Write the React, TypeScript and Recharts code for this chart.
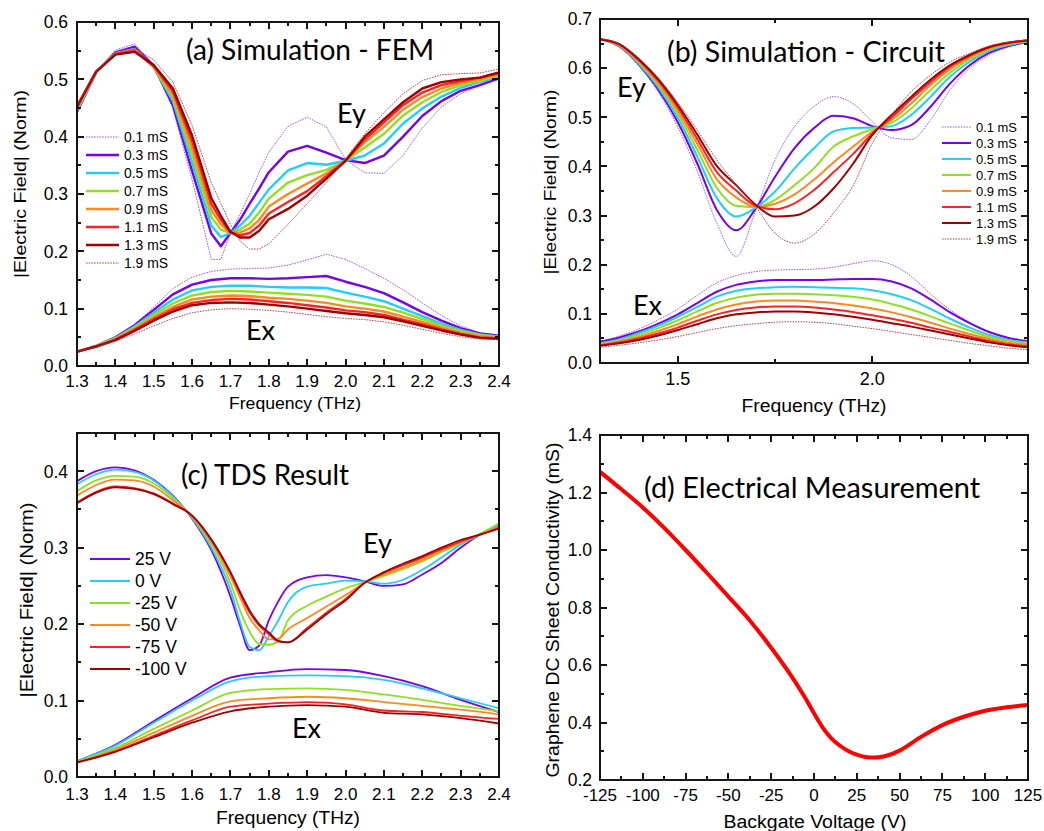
import React from 'react';
import { LineChart, Line, XAxis, YAxis } from 'recharts';

// ---------------- data ----------------
const condLabels = ['0.1 mS', '0.3 mS', '0.5 mS', '0.7 mS', '0.9 mS', '1.1 mS', '1.3 mS', '1.9 mS'];
const voltLabels = ['25 V', '0 V', '-25 V', '-50 V', '-75 V', '-100 V'];

// (a) FEM simulation
const freqA_Ey = [1.3, 1.35, 1.4, 1.45, 1.5, 1.55, 1.6, 1.65, 1.675, 1.7, 1.725, 1.75, 1.775, 1.8, 1.85, 1.9, 1.95, 2.0, 2.05, 2.1, 2.15, 2.2, 2.25, 2.3, 2.35, 2.4];
const eyA_01 = [0.440, 0.512, 0.551, 0.562, 0.526, 0.448, 0.325, 0.186, 0.186, 0.232, 0.265, 0.300, 0.338, 0.373, 0.418, 0.434, 0.417, 0.360, 0.337, 0.336, 0.367, 0.415, 0.452, 0.475, 0.490, 0.500];
const eyA_03 = [0.443, 0.512, 0.547, 0.557, 0.523, 0.455, 0.340, 0.231, 0.209, 0.232, 0.255, 0.283, 0.310, 0.338, 0.374, 0.384, 0.372, 0.359, 0.354, 0.367, 0.400, 0.436, 0.462, 0.480, 0.490, 0.502];
const eyA_05 = [0.445, 0.512, 0.545, 0.553, 0.521, 0.462, 0.355, 0.245, 0.225, 0.232, 0.245, 0.262, 0.285, 0.308, 0.341, 0.354, 0.351, 0.358, 0.367, 0.388, 0.423, 0.449, 0.470, 0.485, 0.495, 0.505];
const eyA_07 = [0.447, 0.513, 0.545, 0.552, 0.521, 0.468, 0.368, 0.260, 0.238, 0.232, 0.238, 0.248, 0.268, 0.292, 0.320, 0.333, 0.342, 0.358, 0.381, 0.405, 0.437, 0.460, 0.478, 0.490, 0.497, 0.507];
const eyA_09 = [0.449, 0.513, 0.544, 0.551, 0.522, 0.474, 0.380, 0.272, 0.247, 0.232, 0.233, 0.240, 0.255, 0.278, 0.300, 0.318, 0.336, 0.358, 0.390, 0.417, 0.447, 0.469, 0.484, 0.494, 0.500, 0.509];
const eyA_11 = [0.451, 0.514, 0.544, 0.550, 0.523, 0.479, 0.392, 0.283, 0.255, 0.233, 0.228, 0.232, 0.245, 0.266, 0.286, 0.305, 0.331, 0.358, 0.395, 0.425, 0.455, 0.477, 0.490, 0.497, 0.503, 0.511];
const eyA_13 = [0.453, 0.514, 0.543, 0.548, 0.525, 0.484, 0.402, 0.293, 0.262, 0.234, 0.224, 0.224, 0.236, 0.256, 0.274, 0.297, 0.327, 0.358, 0.400, 0.430, 0.460, 0.484, 0.495, 0.500, 0.503, 0.512];
const eyA_19 = [0.455, 0.515, 0.546, 0.554, 0.534, 0.495, 0.420, 0.320, 0.283, 0.247, 0.218, 0.204, 0.204, 0.213, 0.247, 0.283, 0.320, 0.362, 0.405, 0.442, 0.475, 0.498, 0.508, 0.510, 0.511, 0.518];

const freqA_Ex = [1.3, 1.35, 1.4, 1.45, 1.5, 1.55, 1.6, 1.65, 1.7, 1.75, 1.8, 1.85, 1.9, 1.95, 2.0, 2.05, 2.1, 2.15, 2.2, 2.25, 2.3, 2.35, 2.4];
const exA_01 = [0.025, 0.035, 0.050, 0.072, 0.103, 0.135, 0.155, 0.165, 0.169, 0.170, 0.171, 0.176, 0.185, 0.195, 0.186, 0.170, 0.153, 0.133, 0.110, 0.088, 0.070, 0.058, 0.054];
const exA_03 = [0.025, 0.035, 0.050, 0.071, 0.098, 0.125, 0.142, 0.150, 0.153, 0.153, 0.152, 0.153, 0.155, 0.157, 0.147, 0.138, 0.127, 0.111, 0.094, 0.079, 0.066, 0.057, 0.053];
const exA_05 = [0.025, 0.035, 0.049, 0.069, 0.093, 0.116, 0.132, 0.138, 0.140, 0.140, 0.138, 0.137, 0.137, 0.136, 0.128, 0.121, 0.113, 0.100, 0.087, 0.074, 0.063, 0.055, 0.051];
const exA_07 = [0.025, 0.035, 0.048, 0.067, 0.089, 0.109, 0.123, 0.129, 0.131, 0.130, 0.128, 0.126, 0.124, 0.121, 0.114, 0.109, 0.103, 0.093, 0.082, 0.071, 0.061, 0.054, 0.050];
const exA_09 = [0.025, 0.034, 0.047, 0.065, 0.085, 0.103, 0.116, 0.121, 0.123, 0.122, 0.119, 0.117, 0.114, 0.110, 0.104, 0.100, 0.095, 0.086, 0.077, 0.067, 0.058, 0.052, 0.049];
const exA_11 = [0.025, 0.034, 0.046, 0.063, 0.082, 0.099, 0.110, 0.115, 0.117, 0.116, 0.113, 0.110, 0.106, 0.102, 0.097, 0.094, 0.089, 0.081, 0.073, 0.064, 0.056, 0.050, 0.048];
const exA_13 = [0.025, 0.034, 0.045, 0.061, 0.079, 0.095, 0.106, 0.110, 0.111, 0.110, 0.107, 0.104, 0.100, 0.096, 0.092, 0.089, 0.085, 0.078, 0.070, 0.062, 0.055, 0.049, 0.047];
const exA_19 = [0.025, 0.033, 0.043, 0.056, 0.070, 0.083, 0.093, 0.098, 0.100, 0.099, 0.097, 0.094, 0.090, 0.086, 0.083, 0.081, 0.077, 0.071, 0.064, 0.057, 0.051, 0.047, 0.046];

// (b) circuit simulation
const freqB = [1.3, 1.35, 1.4, 1.45, 1.5, 1.55, 1.6, 1.65, 1.7, 1.75, 1.8, 1.85, 1.9, 1.95, 2.0, 2.05, 2.1, 2.15, 2.2, 2.25, 2.3, 2.35, 2.4];
const eyB_01 = [0.659, 0.643, 0.605, 0.551, 0.480, 0.390, 0.285, 0.217, 0.310, 0.413, 0.481, 0.522, 0.542, 0.528, 0.491, 0.458, 0.455, 0.495, 0.556, 0.600, 0.627, 0.643, 0.652];
const eyB_03 = [0.659, 0.644, 0.607, 0.556, 0.490, 0.406, 0.312, 0.270, 0.314, 0.379, 0.437, 0.478, 0.503, 0.498, 0.482, 0.474, 0.484, 0.522, 0.569, 0.606, 0.631, 0.645, 0.653];
const eyB_05 = [0.659, 0.645, 0.609, 0.561, 0.499, 0.420, 0.336, 0.298, 0.316, 0.349, 0.396, 0.437, 0.471, 0.478, 0.479, 0.482, 0.505, 0.542, 0.583, 0.613, 0.635, 0.647, 0.654];
const eyB_07 = [0.659, 0.646, 0.612, 0.566, 0.507, 0.434, 0.357, 0.320, 0.317, 0.332, 0.362, 0.396, 0.440, 0.461, 0.476, 0.489, 0.518, 0.556, 0.591, 0.618, 0.638, 0.649, 0.655];
const eyB_09 = [0.659, 0.647, 0.614, 0.570, 0.514, 0.446, 0.374, 0.337, 0.318, 0.324, 0.343, 0.373, 0.408, 0.440, 0.471, 0.495, 0.528, 0.566, 0.598, 0.622, 0.640, 0.650, 0.656];
const eyB_11 = [0.659, 0.648, 0.616, 0.574, 0.520, 0.456, 0.389, 0.351, 0.320, 0.313, 0.325, 0.352, 0.388, 0.425, 0.467, 0.500, 0.537, 0.572, 0.603, 0.625, 0.642, 0.651, 0.657];
const eyB_13 = [0.659, 0.649, 0.618, 0.577, 0.525, 0.465, 0.401, 0.362, 0.322, 0.298, 0.300, 0.318, 0.355, 0.405, 0.464, 0.505, 0.542, 0.577, 0.606, 0.627, 0.643, 0.652, 0.657];
const eyB_19 = [0.660, 0.650, 0.620, 0.580, 0.530, 0.474, 0.414, 0.363, 0.318, 0.264, 0.244, 0.262, 0.305, 0.360, 0.447, 0.505, 0.552, 0.586, 0.613, 0.630, 0.645, 0.653, 0.658];

const exB_01 = [0.044, 0.055, 0.069, 0.088, 0.110, 0.138, 0.163, 0.178, 0.186, 0.189, 0.190, 0.191, 0.195, 0.202, 0.208, 0.200, 0.176, 0.140, 0.108, 0.083, 0.064, 0.052, 0.046];
const exB_03 = [0.043, 0.052, 0.064, 0.080, 0.099, 0.122, 0.145, 0.159, 0.166, 0.169, 0.169, 0.169, 0.170, 0.171, 0.171, 0.166, 0.152, 0.129, 0.103, 0.081, 0.063, 0.051, 0.044];
const exB_05 = [0.040, 0.048, 0.061, 0.076, 0.094, 0.114, 0.135, 0.147, 0.152, 0.154, 0.155, 0.154, 0.153, 0.152, 0.148, 0.140, 0.128, 0.110, 0.090, 0.072, 0.057, 0.047, 0.042];
const exB_07 = [0.039, 0.046, 0.057, 0.071, 0.087, 0.105, 0.122, 0.133, 0.139, 0.141, 0.141, 0.140, 0.138, 0.135, 0.129, 0.120, 0.109, 0.095, 0.080, 0.066, 0.053, 0.045, 0.040];
const exB_09 = [0.037, 0.044, 0.053, 0.065, 0.079, 0.095, 0.109, 0.119, 0.125, 0.127, 0.127, 0.125, 0.122, 0.117, 0.111, 0.103, 0.093, 0.082, 0.070, 0.059, 0.049, 0.041, 0.037];
const exB_11 = [0.036, 0.042, 0.050, 0.060, 0.072, 0.086, 0.099, 0.108, 0.113, 0.115, 0.115, 0.113, 0.109, 0.104, 0.097, 0.090, 0.082, 0.072, 0.063, 0.054, 0.045, 0.038, 0.034];
const exB_13 = [0.035, 0.040, 0.047, 0.056, 0.067, 0.079, 0.091, 0.099, 0.103, 0.105, 0.105, 0.103, 0.099, 0.094, 0.088, 0.081, 0.074, 0.066, 0.058, 0.050, 0.042, 0.036, 0.032];
const exB_19 = [0.032, 0.036, 0.041, 0.047, 0.054, 0.062, 0.070, 0.076, 0.080, 0.083, 0.084, 0.083, 0.080, 0.075, 0.070, 0.064, 0.058, 0.052, 0.046, 0.040, 0.035, 0.030, 0.027];

// (c) TDS result
const freqC_Ey = [1.3, 1.35, 1.4, 1.45, 1.5, 1.55, 1.6, 1.65, 1.7, 1.725, 1.75, 1.775, 1.8, 1.825, 1.85, 1.9, 1.95, 2.0, 2.05, 2.1, 2.15, 2.2, 2.25, 2.3, 2.35, 2.4];
const eyC_p25 = [0.387, 0.400, 0.405, 0.401, 0.389, 0.368, 0.338, 0.297, 0.236, 0.198, 0.166, 0.172, 0.205, 0.230, 0.249, 0.261, 0.264, 0.261, 0.256, 0.250, 0.252, 0.265, 0.280, 0.300, 0.317, 0.329];
const eyC_0 = [0.383, 0.396, 0.402, 0.399, 0.388, 0.367, 0.339, 0.300, 0.245, 0.203, 0.170, 0.166, 0.184, 0.205, 0.229, 0.249, 0.253, 0.257, 0.256, 0.253, 0.258, 0.271, 0.287, 0.304, 0.317, 0.330];
const eyC_m25 = [0.374, 0.388, 0.394, 0.393, 0.384, 0.365, 0.340, 0.305, 0.254, 0.218, 0.190, 0.174, 0.173, 0.178, 0.205, 0.224, 0.236, 0.247, 0.255, 0.263, 0.272, 0.282, 0.294, 0.306, 0.318, 0.332];
const eyC_m50 = [0.368, 0.382, 0.389, 0.388, 0.380, 0.362, 0.341, 0.308, 0.262, 0.235, 0.208, 0.192, 0.180, 0.181, 0.193, 0.208, 0.223, 0.238, 0.254, 0.265, 0.274, 0.284, 0.296, 0.307, 0.317, 0.327];
const eyC_m75 = [0.359, 0.373, 0.380, 0.378, 0.371, 0.358, 0.342, 0.310, 0.267, 0.240, 0.215, 0.198, 0.187, 0.177, 0.176, 0.195, 0.215, 0.233, 0.254, 0.267, 0.277, 0.287, 0.298, 0.308, 0.317, 0.326];
const eyC_m100 = [0.358, 0.372, 0.379, 0.377, 0.370, 0.357, 0.342, 0.311, 0.268, 0.242, 0.218, 0.200, 0.189, 0.178, 0.176, 0.193, 0.213, 0.231, 0.254, 0.268, 0.279, 0.289, 0.300, 0.310, 0.317, 0.325];

const freqC_Ex = [1.3, 1.4, 1.5, 1.6, 1.7, 1.8, 1.9, 2.0, 2.1, 2.2, 2.3, 2.4];
const exC_p25 = [0.0205, 0.042, 0.073, 0.103, 0.130, 0.137, 0.141, 0.140, 0.132, 0.119, 0.101, 0.085];
const exC_0 = [0.021, 0.041, 0.071, 0.100, 0.125, 0.132, 0.133, 0.132, 0.127, 0.116, 0.103, 0.090];
const exC_m25 = [0.020, 0.038, 0.063, 0.087, 0.110, 0.115, 0.116, 0.114, 0.108, 0.101, 0.093, 0.086];
const exC_m50 = [0.019, 0.036, 0.058, 0.080, 0.099, 0.103, 0.105, 0.103, 0.098, 0.093, 0.088, 0.082];
const exC_m75 = [0.019, 0.034, 0.054, 0.074, 0.092, 0.096, 0.098, 0.095, 0.087, 0.085, 0.080, 0.076];
const exC_m100 = [0.019, 0.033, 0.052, 0.071, 0.086, 0.092, 0.094, 0.092, 0.084, 0.082, 0.077, 0.070];

// (d) electrical measurement
const gateVoltage = [-125, -112.5, -100, -87.5, -75, -62.5, -50, -37.5, -25, -12.5, -5, 0, 5, 10, 15, 20, 25, 30, 35, 40, 50, 62.5, 75, 87.5, 100, 112.5, 125];
const sheetConductivity = [1.272, 1.211, 1.148, 1.077, 1.0, 0.920, 0.838, 0.755, 0.660, 0.555, 0.484, 0.432, 0.383, 0.346, 0.320, 0.301, 0.288, 0.280, 0.278, 0.281, 0.302, 0.350, 0.391, 0.420, 0.441, 0.453, 0.461];

// tick values
const freqTicksAC = [1.3, 1.4, 1.5, 1.6, 1.7, 1.8, 1.9, 2.0, 2.1, 2.2, 2.3, 2.4];
const freqTicksB = [1.5, 2.0];
const yTicksA = [0, 0.1, 0.2, 0.3, 0.4, 0.5, 0.6];
const yTicksB = [0, 0.1, 0.2, 0.3, 0.4, 0.5, 0.6, 0.7];
const yTicksC = [0, 0.1, 0.2, 0.3, 0.4];
const vTicksD = [-125, -100, -75, -50, -25, 0, 25, 50, 75, 100, 125];
const yTicksD = [0.2, 0.4, 0.6, 0.8, 1.0, 1.2, 1.4];

// ---------------- styles ----------------
const condColors = ['#9A5CF0', '#7700EE', '#22CCFF', '#90E020', '#FF8820', '#FF2222', '#A00000', '#B24A4A'];
const voltColors = ['#7A00F0', '#22CCFF', '#8EE020', '#FF8820', '#FF2020', '#A00000'];
const DOT = '1.6 1.1';
const INK = '#151515';
const TICKFONT = '"Liberation Sans", Arial, sans-serif';
const TITLEFONT = 'Lato, "Open Sans", sans-serif';

function rows(xs: number[], series: number[][]) {
  return xs.map((x, i) => {
    const r: any = { x };
    series.forEach((s, k) => { r['s' + k] = s[i]; });
    return r;
  });
}

function steps(a: number, b: number, step: number) {
  const out: number[] = [];
  const n = Math.round((b - a) / step);
  for (let i = 0; i <= n; i++) out.push(Math.round((a + i * step) * 10000) / 10000);
  return out;
}

function labelTick(side: 'bottom' | 'left', fmt: (v: number) => string, fontSize: number, gap: number) {
  return (props: any) => {
    const { x, y, payload } = props;
    const v = Number(payload.value);
    if (side === 'bottom') {
      return <text x={x} y={y + gap} textAnchor="middle" fontSize={fontSize} fontFamily={TICKFONT} fill="#000">{fmt(v)}</text>;
    }
    return <text x={x - gap} y={y} dy="0.36em" textAnchor="end" fontSize={fontSize} fontFamily={TICKFONT} fill="#000">{fmt(v)}</text>;
  };
}

type SeriesDef = { key: string; color: string; width: number; dash?: string };
type Group = { data: any[]; series: SeriesDef[]; curve: 'linear' | 'monotone' };

function Panel(p: {
  left: number; top: number; width: number; height: number;
  margin: { top: number; right: number; bottom: number; left: number };
  xDomain: [number, number]; xTicks: number[]; xFmt: (v: number) => string; xFont: number; xGap: number;
  yDomain: [number, number]; yTicks: number[]; yFmt: (v: number) => string; yFont: number; yGap: number;
  groups: Group[];
}) {
  return (
    <div style={{ position: 'absolute', left: p.left, top: p.top }}>
      <LineChart width={p.width} height={p.height} margin={p.margin}>
        <XAxis dataKey="x" type="number" domain={p.xDomain} allowDataOverflow ticks={p.xTicks} interval={0}
          tickLine={false} tickSize={0} tickMargin={0} axisLine={{ stroke: INK, strokeWidth: 2 }} height={30}
          tick={labelTick('bottom', p.xFmt, p.xFont, p.xGap)} />
        <YAxis type="number" domain={p.yDomain} allowDataOverflow ticks={p.yTicks} interval={0}
          tickLine={false} tickSize={0} tickMargin={0} axisLine={{ stroke: INK, strokeWidth: 2 }} width={60}
          tick={labelTick('left', p.yFmt, p.yFont, p.yGap)} />
        {p.groups.flatMap((g, gi) =>
          g.series.map((s, si) => (
            <Line key={`g${gi}s${si}`} data={g.data} dataKey={s.key} type={g.curve} stroke={s.color}
              strokeWidth={s.width} strokeDasharray={s.dash} dot={false} activeDot={false}
              isAnimationActive={false} strokeLinejoin="round" />
          ))
        )}
      </LineChart>
    </div>
  );
}

// plot frame and inward ticks on all four sides, pixel-aligned solid bars
function Frame(p: { x0: number; x1: number; y0: number; y1: number; xd: [number, number]; yd: [number, number];
  xMaj: number[]; xMin: number[]; yMaj: number[]; yMin: number[] }) {
  const sx = (v: number) => p.x0 + ((v - p.xd[0]) / (p.xd[1] - p.xd[0])) * (p.x1 - p.x0);
  const sy = (v: number) => p.y1 - ((v - p.yd[0]) / (p.yd[1] - p.yd[0])) * (p.y1 - p.y0);
  const bars: number[][] = [
    [p.x0 - 1, p.y0 - 1, p.x1 - p.x0 + 2, 2],
    [p.x0 - 1, p.y1 - 1, p.x1 - p.x0 + 2, 2],
    [p.x0 - 1, p.y0 - 1, 2, p.y1 - p.y0 + 2],
    [p.x1 - 1, p.y0 - 1, 2, p.y1 - p.y0 + 2],
  ];
  const xt = (list: number[], L: number) => list.forEach((v) => {
    const X = Math.round(sx(v)) - 1;
    bars.push([X, p.y1 - L, 2, L], [X, p.y0, 2, L]);
  });
  const yt = (list: number[], L: number) => list.forEach((v) => {
    const Y = Math.round(sy(v)) - 1;
    bars.push([p.x0, Y, L, 2], [p.x1 - L, Y, L, 2]);
  });
  xt(p.xMaj, 7); xt(p.xMin, 4); yt(p.yMaj, 7); yt(p.yMin, 4);
  return (
    <g>
      {bars.map((b, i) => <rect key={i} x={b[0]} y={b[1]} width={b[2]} height={b[3]} fill={INK} />)}
    </g>
  );
}

function condSeries(thick: number): SeriesDef[] {
  return condColors.map((c, i) => ({
    key: 's' + i,
    color: c,
    width: i === 0 || i === 7 ? 1 : thick,
    dash: i === 0 || i === 7 ? DOT : undefined,
  }));
}
const voltSeries: SeriesDef[] = voltColors.map((c, i) => ({ key: 's' + i, color: c, width: 1.8 }));

const dataA_Ey = rows(freqA_Ey, [eyA_01, eyA_03, eyA_05, eyA_07, eyA_09, eyA_11, eyA_13, eyA_19]);
const dataA_Ex = rows(freqA_Ex, [exA_01, exA_03, exA_05, exA_07, exA_09, exA_11, exA_13, exA_19]);
const dataB_Ey = rows(freqB, [eyB_01, eyB_03, eyB_05, eyB_07, eyB_09, eyB_11, eyB_13, eyB_19]);
const dataB_Ex = rows(freqB, [exB_01, exB_03, exB_05, exB_07, exB_09, exB_11, exB_13, exB_19]);
const dataC_Ey = rows(freqC_Ey, [eyC_p25, eyC_0, eyC_m25, eyC_m50, eyC_m75, eyC_m100]);
const dataC_Ex = rows(freqC_Ex, [exC_p25, exC_0, exC_m25, exC_m50, exC_m75, exC_m100]);
const dataD = rows(gateVoltage, [sheetConductivity]);

const f1 = (v: number) => v.toFixed(1);
const f0 = (v: number) => String(Math.round(v));

function Legend(p: { x: number; y: number; dy: number; lineLen: number; gap: number; labels: string[]; series: SeriesDef[]; fontSize: number; textLen?: number }) {
  return (
    <g>
      {p.labels.map((l, i) => {
        const yy = p.y + i * p.dy;
        const s = p.series[i];
        return (
          <g key={l}>
            <line x1={p.x} y1={yy} x2={p.x + p.lineLen} y2={yy} stroke={s.color} strokeWidth={s.width} strokeDasharray={s.dash} />
            <text x={p.x + p.lineLen + p.gap} y={yy} dy="0.36em" fontSize={p.fontSize} fontFamily={TICKFONT} fill="#000"
              textLength={p.textLen} lengthAdjust={p.textLen ? 'spacingAndGlyphs' : undefined}>{l}</text>
          </g>
        );
      })}
    </g>
  );
}

function Title(p: { x: number; y: number; text: string; size: number; len?: number }) {
  return (
    <text x={p.x} y={p.y} fontSize={p.size} fontFamily={TITLEFONT} fill="#000"
      textLength={p.len} lengthAdjust={p.len ? 'spacingAndGlyphs' : undefined}>{p.text}</text>
  );
}
function XTitle(p: { cx: number; y: number; text: string; size: number; len: number }) {
  return (
    <text x={p.cx} y={p.y} textAnchor="middle" fontSize={p.size} fontFamily={TICKFONT} fill="#000"
      textLength={p.len} lengthAdjust="spacingAndGlyphs">{p.text}</text>
  );
}
function YTitle(p: { cx: number; cy: number; text: string; size: number; len: number }) {
  return (
    <text x={p.cx} y={p.cy} textAnchor="middle" dominantBaseline="central" fontSize={p.size} fontFamily={TICKFONT} fill="#000"
      transform={`rotate(-90 ${p.cx} ${p.cy})`} textLength={p.len} lengthAdjust="spacingAndGlyphs">{p.text}</text>
  );
}

export default function App() {
  const serA = condSeries(2.4);
  const serB = condSeries(2.0);
  const minorF = steps(1.35, 2.35, 0.1);
  return (
    <div style={{ position: 'absolute', left: 0, top: 0, width: 1044, height: 831, background: '#fff', overflow: 'hidden' }}>
      <Panel left={0} top={0} width={520} height={420}
        margin={{ top: 22, right: 21, bottom: 24, left: 17 }}
        xDomain={[1.3, 2.4]} xTicks={freqTicksAC} xFmt={f1} xFont={17} xGap={21}
        yDomain={[0, 0.6]} yTicks={yTicksA} yFmt={f1} yFont={17.5} yGap={9}
        groups={[{ data: dataA_Ey, series: serA, curve: 'linear' }, { data: dataA_Ex, series: serA, curve: 'linear' }]} />
      <Panel left={520} top={0} width={524} height={420}
        margin={{ top: 19, right: 16, bottom: 27, left: 20 }}
        xDomain={[1.3, 2.4]} xTicks={freqTicksB} xFmt={f1} xFont={18} xGap={22}
        yDomain={[0, 0.7]} yTicks={yTicksB} yFmt={f1} yFont={17.5} yGap={8}
        groups={[{ data: dataB_Ey, series: serB, curve: 'monotone' }, { data: dataB_Ex, series: serB, curve: 'monotone' }]} />
      <Panel left={0} top={420} width={520} height={411}
        margin={{ top: 13, right: 21, bottom: 24, left: 17 }}
        xDomain={[1.3, 2.4]} xTicks={freqTicksAC} xFmt={f1} xFont={17} xGap={23}
        yDomain={[0, 0.45]} yTicks={yTicksC} yFmt={f1} yFont={17.5} yGap={9}
        groups={[{ data: dataC_Ey, series: voltSeries, curve: 'monotone' }, { data: dataC_Ex, series: voltSeries, curve: 'monotone' }]} />
      <Panel left={520} top={420} width={524} height={411}
        margin={{ top: 15, right: 16, bottom: 21, left: 20 }}
        xDomain={[-125, 125]} xTicks={vTicksD} xFmt={f0} xFont={17} xGap={21}
        yDomain={[0.2, 1.4]} yTicks={yTicksD} yFmt={f1} yFont={17.5} yGap={8}
        groups={[{ data: dataD, series: [{ key: 's0', color: '#FF0000', width: 4 }], curve: 'monotone' }]} />

      <svg width={1044} height={831} style={{ position: 'absolute', left: 0, top: 0, pointerEvents: 'none' }}>
        <Frame x0={77} x1={499} y0={22} y1={366} xd={[1.3, 2.4]} yd={[0, 0.6]}
          xMaj={freqTicksAC} xMin={minorF} yMaj={yTicksA} yMin={steps(0.05, 0.55, 0.1)} />
        <Frame x0={600} x1={1028} y0={19} y1={363} xd={[1.3, 2.4]} yd={[0, 0.7]}
          xMaj={freqTicksB} xMin={[1.75, 2.25]} yMaj={yTicksB} yMin={steps(0.05, 0.65, 0.1)} />
        <Frame x0={77} x1={499} y0={433} y1={777} xd={[1.3, 2.4]} yd={[0, 0.45]}
          xMaj={freqTicksAC} xMin={minorF} yMaj={yTicksC} yMin={steps(0.05, 0.35, 0.1)} />
        <Frame x0={600} x1={1028} y0={435} y1={780} xd={[-125, 125]} yd={[0.2, 1.4]}
          xMaj={vTicksD} xMin={steps(-112.5, 112.5, 25)} yMaj={yTicksD} yMin={steps(0.3, 1.3, 0.2)} />

        <Title x={186} y={60} text="(a) Simulation - FEM" size={28} len={248} />
        <Title x={667} y={62} text="(b) Simulation - Circuit" size={28} len={278} />
        <Title x={181} y={485} text="(c) TDS Result" size={28} len={168} />
        <Title x={644} y={498} text="(d) Electrical Measurement" size={28} len={336} />

        <Title x={337} y={123} text="Ey" size={27} />
        <Title x={246} y={340} text="Ex" size={27} />
        <Title x={617} y={97} text="Ey" size={27} />
        <Title x={633} y={315} text="Ex" size={27} />
        <Title x={363} y={553} text="Ey" size={27} />
        <Title x={292} y={738} text="Ex" size={27} />

        <XTitle cx={295} y={409} text="Frequency (THz)" size={17} len={132} />
        <XTitle cx={814} y={412} text="Frequency (THz)" size={18} len={145} />
        <XTitle cx={288} y={824} text="Frequency (THz)" size={18} len={144} />
        <XTitle cx={815} y={828} text="Backgate Voltage (V)" size={18} len={183} />

        <YTitle cx={20} cy={184} text="|Electric Field| (Norm)" size={17} len={188} />
        <YTitle cx={550} cy={182} text="|Electric Field| (Norm)" size={17} len={185} />
        <YTitle cx={27} cy={600} text="|Electric Field| (Norm)" size={18} len={195} />
        <YTitle cx={553} cy={610} text="Graphene DC Sheet Conductivity (mS)" size={18} len={335} />

        <Legend x={86} y={137} dy={18} lineLen={33} gap={5} labels={condLabels} series={serA} fontSize={14} textLen={44} />
        <Legend x={942} y={127} dy={16} lineLen={29} gap={5} labels={condLabels} series={serB} fontSize={13} textLen={41} />
        <Legend x={90} y={559} dy={22} lineLen={40} gap={5} labels={voltLabels} series={voltSeries} fontSize={17.5} />
      </svg>
    </div>
  );
}
